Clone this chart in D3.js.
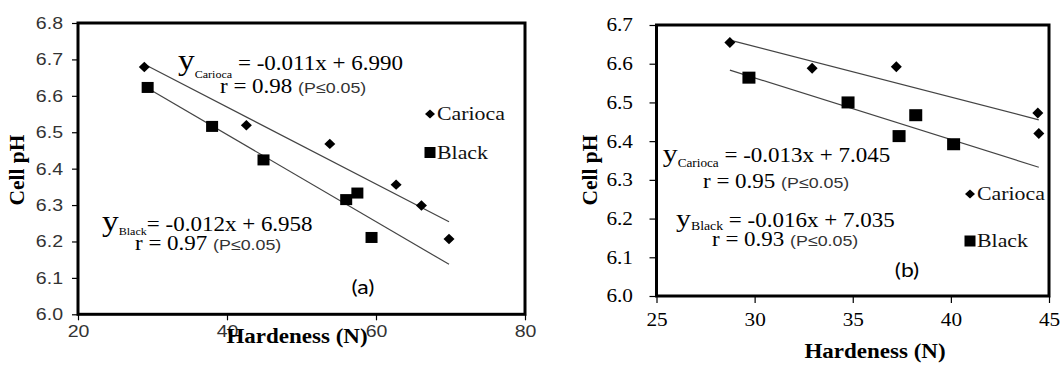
<!DOCTYPE html>
<html>
<head>
<meta charset="utf-8">
<script src="https://cdn.jsdelivr.net/npm/d3@7"></script>
<style>
  body { margin: 0; background: #fff; }
</style>
</head>
<body>
<svg id="chart" width="1060" height="365"></svg>
<script>
// ---- data ----
// panel (a)
const aCariocaHardness = [28.9, 42.6, 53.8, 62.7, 66.1, 69.8];
const aCariocaPH = [6.679, 6.519, 6.468, 6.356, 6.299, 6.207];
const aBlackHardness = [29.35, 38.0, 44.9, 56.0, 57.5, 59.4];
const aBlackPH = [6.623, 6.516, 6.424, 6.315, 6.333, 6.211];
const aXTicks = [20, 40, 60, 80];
const aYTicks = [6.0, 6.1, 6.2, 6.3, 6.4, 6.5, 6.6, 6.7, 6.8];
const aEquations = [
    { sub: 'Carioca', eq: ' = -0.011x + 6.990', r: 'r = 0.98 ' },
    { sub: 'Black', eq: '= -0.012x + 6.958', r: 'r = 0.97 ' }
];

// panel (b)
const bCariocaHardness = [28.74, 32.93, 37.22, 44.43, 44.48];
const bCariocaPH = [6.655, 6.588, 6.592, 6.473, 6.42];
const bBlackHardness = [29.71, 34.76, 37.36, 38.21, 40.14];
const bBlackPH = [6.564, 6.500, 6.413, 6.467, 6.392];
const bXTicks = [25, 30, 35, 40, 45];
const bYTicks = [6.0, 6.1, 6.2, 6.3, 6.4, 6.5, 6.6, 6.7];
const bEquations = [
    { sub: 'Carioca', eq: ' = -0.013x + 7.045', r: 'r = 0.95 ' },
    { sub: 'Black', eq: ' = -0.016x + 7.035', r: 'r = 0.93 ' }
];

const seriesNames = ['Carioca', 'Black'];
const pText = '(P\u22640.05)';
const xTitle = 'Hardeness (N)';
const yTitle = 'Cell pH';

// the source picture is stretched sideways, so text is too
const sx = 1.15;
const serif = 'Liberation Serif';
const sans = 'Liberation Sans';

const svg = d3.select('#chart');

function stretchedText(g, x, y) {
    return g.append('text').attr('transform', `translate(${x},${y}) scale(${sx},1)`);
}

// least squares line, like the spreadsheet trendline
function fitLine(xs, ys) {
    const mx = d3.mean(xs), my = d3.mean(ys);
    let num = 0, den = 0;
    xs.forEach((v, i) => { num += (v - mx) * (ys[i] - my); den += (v - mx) * (v - mx); });
    const m = num / den;
    return { m: m, b: my - m * mx };
}

function diamondPath(hw, hh) {
    return `M0,${-hh}L${hw},0L0,${hh}L${-hw},0Z`;
}

function drawPanel(p) {
    const g = svg.append('g');
    const x = d3.scaleLinear().domain(p.xDomain).range([p.left, p.right]);
    const y = d3.scaleLinear().domain(p.yDomain).range([p.bottom, p.top]);

    // axes
    const gx = g.append('g').attr('transform', `translate(0,${p.bottom})`)
        .call(d3.axisBottom(x).tickValues(p.xTicks).tickSize(p.tickLen).tickSizeOuter(0).tickFormat(d3.format('d')));
    const gy = g.append('g').attr('transform', `translate(${p.left},0)`)
        .call(d3.axisLeft(y).tickValues(p.yTicks).tickSize(p.tickLen).tickSizeOuter(0).tickFormat(d3.format('.1f')));
    [gx, gy].forEach(a => {
        a.attr('font-family', p.tickFont).attr('font-size', p.tickSize);
        a.select('.domain').remove();
        a.selectAll('line').attr('stroke', '#000').attr('stroke-width', 1.2);
        a.selectAll('text').attr('fill', p.tickColor);
    });
    gx.selectAll('text').attr('y', p.xLabelOffset).attr('dy', 0).attr('transform', `scale(${sx},1)`);
    gy.selectAll('text').attr('x', -p.yLabelOffset / sx).attr('transform', `scale(${sx},1)`);

    // axis titles
    stretchedText(g, p.xTitlePos[0], p.xTitlePos[1])
        .attr('text-anchor', 'middle')
        .attr('font-family', serif).attr('font-weight', 'bold').attr('font-size', 20)
        .text(xTitle);
    g.append('text')
        .attr('transform', `translate(${p.yTitlePos[0]},${p.yTitlePos[1]}) rotate(-90)`)
        .attr('text-anchor', 'middle')
        .attr('font-family', serif).attr('font-weight', 'bold').attr('font-size', 21.5)
        .text(yTitle);

    // trend lines over the full hardness range
    const allX = p.series[0].xs.concat(p.series[1].xs);
    const xr = d3.extent(allX);
    p.series.forEach(s => {
        const f = fitLine(s.xs, s.ys);
        g.append('line')
            .attr('x1', x(xr[0])).attr('y1', y(f.m * xr[0] + f.b))
            .attr('x2', x(xr[1])).attr('y2', y(f.m * xr[1] + f.b))
            .attr('stroke', '#444').attr('stroke-width', 1.2);
    });

    // markers
    const car = p.series[0];
    g.selectAll('.car').data(car.xs).enter().append('path')
        .attr('class', 'car')
        .attr('transform', (d, i) => `translate(${x(d)},${y(car.ys[i])})`)
        .attr('d', diamondPath(p.diamond[0], p.diamond[1]))
        .attr('fill', '#000');
    const blk = p.series[1];
    g.selectAll('.blk').data(blk.xs).enter().append('rect')
        .attr('class', 'blk')
        .attr('x', d => x(d) - p.square[0] / 2)
        .attr('y', (d, i) => y(blk.ys[i]) - p.square[1] / 2)
        .attr('width', p.square[0]).attr('height', p.square[1])
        .attr('fill', '#000');

    // equations
    p.equations.forEach((e, i) => {
        const st = p.eqStyle[i];
        const t = stretchedText(g, st.x, st.y).attr('font-family', serif).attr('fill', '#000');
        t.append('tspan').attr('font-size', st.ySize).text('y');
        t.append('tspan').attr('font-size', st.subSize).attr('dy', st.subDy).text(e.sub);
        t.append('tspan').attr('font-size', 20).attr('dy', -st.subDy).text(e.eq);
        const r = stretchedText(g, st.rx, st.ry).attr('font-family', serif).attr('fill', '#000');
        r.append('tspan').attr('font-size', 20).text(e.r);
        r.append('tspan').attr('font-family', sans).attr('font-size', 15.5).attr('fill', '#333').text(pText);
    });

    // legend
    const lg = p.legend;
    g.append('path')
        .attr('transform', `translate(${lg.x},${lg.y0})`)
        .attr('d', diamondPath(5, 4.5))
        .attr('fill', '#000');
    g.append('rect')
        .attr('x', lg.x - 5.5).attr('y', lg.y1 - 5.5)
        .attr('width', 11).attr('height', 11)
        .attr('fill', '#000');
    seriesNames.forEach((n, i) => {
        stretchedText(g, lg.x + 7, (i === 0 ? lg.y0 : lg.y1) + 6)
            .attr('font-family', serif).attr('font-size', 19).attr('fill', '#111')
            .text(n);
    });

    // panel label
    stretchedText(g, p.labelPos[0], p.labelPos[1])
        .attr('text-anchor', 'middle')
        .attr('font-family', 'Lato').attr('font-size', 20)
        .text(p.label);

    // frame
    g.append('rect')
        .attr('x', p.left).attr('y', p.top)
        .attr('width', p.right - p.left).attr('height', p.bottom - p.top)
        .attr('fill', 'none').attr('stroke', '#000').attr('stroke-width', 3);
}

drawPanel({
    left: 78, right: 525, top: 23, bottom: 314.3,
    xDomain: [20, 80], yDomain: [6.0, 6.8],
    xTicks: aXTicks, yTicks: aYTicks, tickLen: 6,
    tickFont: sans, tickSize: 17, tickColor: '#333',
    xLabelOffset: 23, yLabelOffset: 15,
    xTitlePos: [297, 343], yTitlePos: [24, 170],
    series: [{ xs: aCariocaHardness, ys: aCariocaPH }, { xs: aBlackHardness, ys: aBlackPH }],
    diamond: [5.5, 5.2], square: [12, 11],
    equations: aEquations,
    eqStyle: [
        { x: 178, y: 70, ySize: 29, subSize: 10.5, subDy: 8, rx: 220, ry: 93 },
        { x: 102, y: 231, ySize: 29, subSize: 10.5, subDy: 4, rx: 135, ry: 250 }
    ],
    legend: { x: 430, y0: 114, y1: 152.5 },
    label: '(a)', labelPos: [363, 294]
});

drawPanel({
    left: 656.5, right: 1049, top: 25, bottom: 296,
    xDomain: [25, 45], yDomain: [6.0, 6.7],
    xTicks: bXTicks, yTicks: bYTicks, tickLen: 7,
    tickFont: serif, tickSize: 18.5, tickColor: '#000',
    xLabelOffset: 30, yLabelOffset: 23.5,
    xTitlePos: [875, 358], yTitlePos: [597, 170],
    series: [{ xs: bCariocaHardness, ys: bCariocaPH }, { xs: bBlackHardness, ys: bBlackPH }],
    diamond: [5.5, 5.5], square: [13, 12],
    equations: bEquations,
    eqStyle: [
        { x: 662.7, y: 161.5, ySize: 26, subSize: 11.5, subDy: 5, rx: 703, ry: 188 },
        { x: 676, y: 227, ySize: 26, subSize: 12, subDy: 3, rx: 712, ry: 246 }
    ],
    legend: { x: 970, y0: 194, y1: 241 },
    label: '(b)', labelPos: [907, 277]
});
</script>
</body>
</html>
